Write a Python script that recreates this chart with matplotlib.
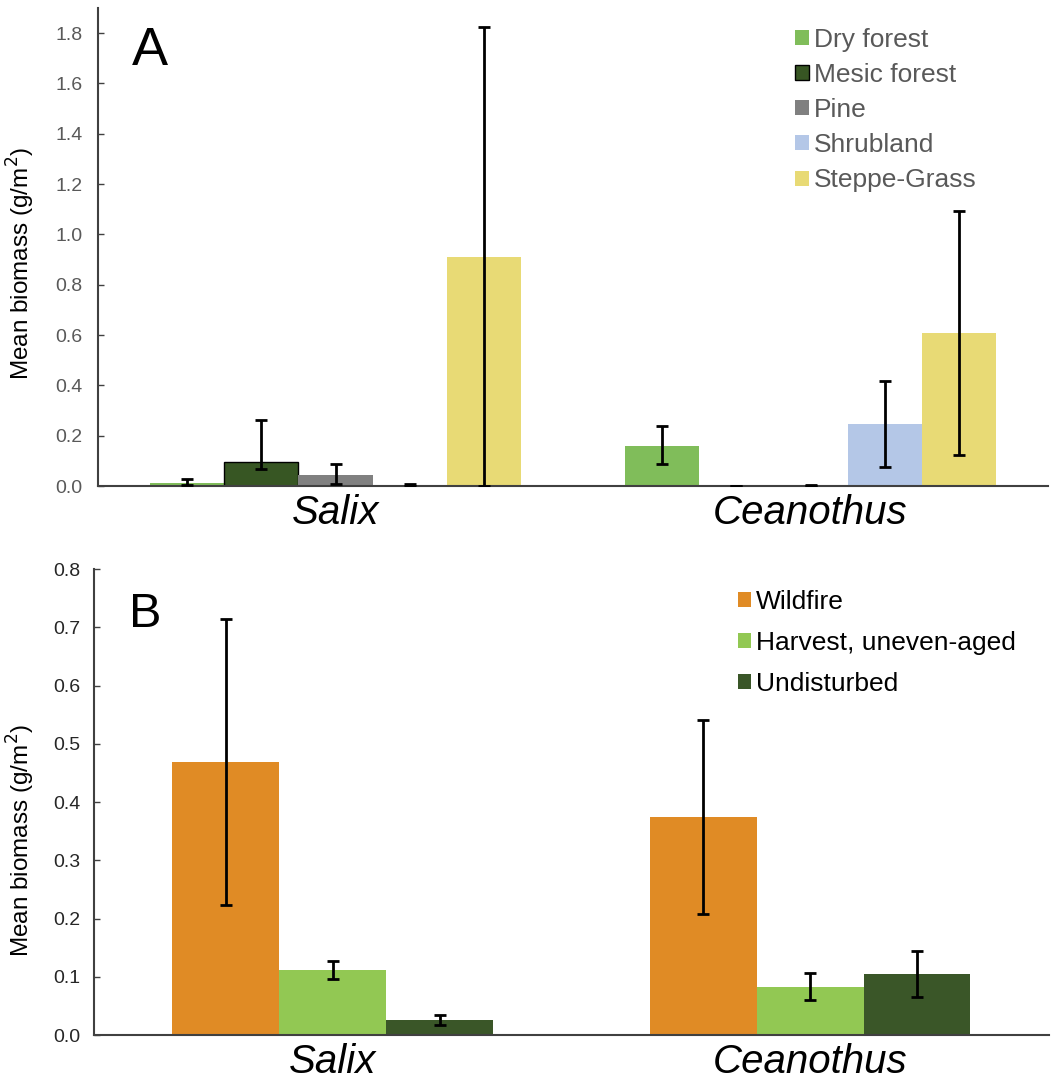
import numpy as np
import matplotlib
matplotlib.use("Agg")
import matplotlib.pyplot as plt

plt.rcParams['font.family'] = ['Liberation Sans', 'DejaVu Sans']

# Panel A: biomass by forest type
species = ["Salix", "Ceanothus"]
habitats = ["Dry forest", "Mesic forest", "Pine", "Shrubland", "Steppe-Grass"]
habitat_means = {
    "Dry forest":   [0.014, 0.161],
    "Mesic forest": [0.096, 0.0],
    "Pine":         [0.044, 0.002],
    "Shrubland":    [0.004, 0.245],
    "Steppe-Grass": [0.910, 0.609],
}
habitat_upper = {
    "Dry forest":   [0.029, 0.237],
    "Mesic forest": [0.264, 0.0],
    "Pine":         [0.089, 0.006],
    "Shrubland":    [0.010, 0.417],
    "Steppe-Grass": [1.826, 1.094],
}
habitat_lower = {
    "Dry forest":   [0.004, 0.089],
    "Mesic forest": [0.067, 0.0],
    "Pine":         [0.007, 0.0],
    "Shrubland":    [0.0, 0.075],
    "Steppe-Grass": [0.0, 0.123],
}
habitat_colors = ["#80BD5A", "#375623", "#808080", "#B4C7E7", "#E8DA75"]

# Panel B: biomass by disturbance
disturbances = ["Wildfire", "Harvest, uneven-aged", "Undisturbed"]
dist_means = {
    "Wildfire":             [0.469, 0.375],
    "Harvest, uneven-aged": [0.111, 0.082],
    "Undisturbed":          [0.025, 0.104],
}
dist_upper = {
    "Wildfire":             [0.714, 0.541],
    "Harvest, uneven-aged": [0.127, 0.107],
    "Undisturbed":          [0.035, 0.144],
}
dist_lower = {
    "Wildfire":             [0.223, 0.207],
    "Harvest, uneven-aged": [0.097, 0.060],
    "Undisturbed":          [0.017, 0.066],
}
dist_colors = ["#E08B25", "#92C853", "#3A5628"]

fig = plt.figure(figsize=(10.53, 10.83), dpi=100)
axA = fig.add_axes([0.0931, 0.5512, 0.9022, 0.4414])
axB = fig.add_axes([0.0893, 0.0443, 0.9067, 0.4303])

x = np.arange(len(species))


def grouped(ax, names, means, upper, lower, colors, width, edge_name=None):
    n = len(names)
    for i, name in enumerate(names):
        pos = x + (i - (n - 1) / 2) * width
        m = np.array(means[name])
        err = [m - np.array(lower[name]), np.array(upper[name]) - m]
        ec = "black" if name == edge_name else "none"
        ax.bar(pos, m, width, color=colors[i], edgecolor=ec, linewidth=1.0,
               label=name, zorder=2)
        ax.errorbar(pos, m, yerr=err, fmt="none", ecolor="black", elinewidth=2,
                    capsize=4, capthick=2, zorder=3)


def style(ax, label_color, spine_color, pad):
    ax.set_xlim(-0.5, 1.5)
    ax.set_xticks(x)
    ax.set_xticklabels(species, fontsize=29, style="italic")
    ax.tick_params(axis="x", length=0, pad=6)
    ax.tick_params(axis="y", direction="in", length=4, width=1, color=spine_color,
                   labelsize=14, labelcolor=label_color, pad=pad)
    for s in ["top", "right"]:
        ax.spines[s].set_visible(False)
    for s in ["left", "bottom"]:
        ax.spines[s].set_color(spine_color)
        ax.spines[s].set_linewidth(1.5)


grouped(axA, habitats, habitat_means, habitat_upper, habitat_lower,
        habitat_colors, 0.156, edge_name="Mesic forest")
style(axA, "#595959", "#404040", 11)
axA.set_ylim(0, 1.9)
axA.set_yticks(np.arange(0, 1.81, 0.2))
axA.yaxis.set_major_formatter(matplotlib.ticker.FormatStrFormatter("%.1f"))
axA.set_ylabel("Mean biomass (g/m$^2$)", fontsize=17.5)
axA.yaxis.set_label_coords(-0.064, 0.465)
axA.text(0.0358, 0.881, "A", transform=axA.transAxes, fontsize=39, va="baseline")
legA = axA.legend(loc="upper left", bbox_to_anchor=(0.734, 0.958), frameon=False,
                  fontsize=19, handlelength=0.5, handleheight=0.5,
                  handletextpad=0.2, labelspacing=0.42, borderpad=0, borderaxespad=0)
for t in legA.get_texts():
    t.set_color("#595959")

grouped(axB, disturbances, dist_means, dist_upper, dist_lower,
        dist_colors, 0.224)
style(axB, "#262626", "#404040", 10)
axB.set_ylim(0, 0.8)
axB.set_yticks(np.arange(0, 0.81, 0.1))
axB.yaxis.set_major_formatter(matplotlib.ticker.FormatStrFormatter("%.1f"))
axB.set_ylabel("Mean biomass (g/m$^2$)", fontsize=17.5)
axB.yaxis.set_label_coords(-0.06, 0.418)
axB.text(0.037, 0.8755, "B", transform=axB.transAxes, fontsize=35, va="baseline")
legB = axB.legend(loc="upper left", bbox_to_anchor=(0.674, 0.955), frameon=False,
                  fontsize=19, handlelength=0.5, handleheight=0.5,
                  handletextpad=0.2, labelspacing=0.65, borderpad=0, borderaxespad=0)

fig.savefig("out.png", dpi=100)
